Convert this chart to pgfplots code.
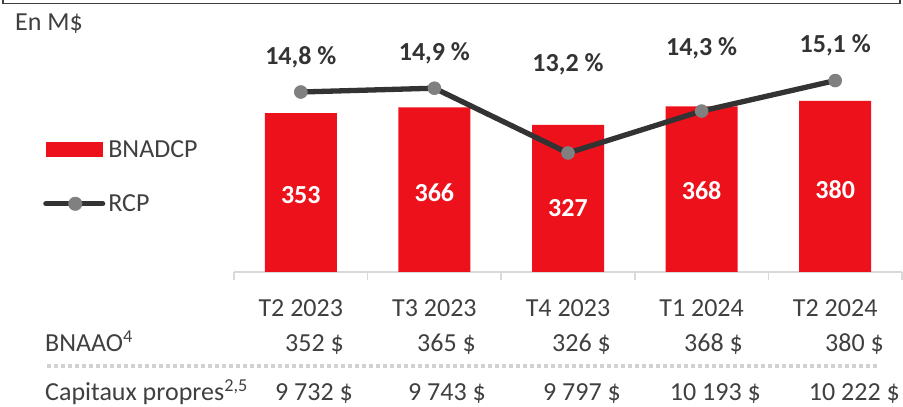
\documentclass[border=0pt]{standalone}
\usepackage{pgfplots}
\pgfplotsset{compat=1.18}
\usepackage{fontspec}
\setmainfont{Carlito}
\definecolor{barred}{RGB}{237,17,27}
\definecolor{linegray}{RGB}{51,51,51}
\definecolor{markgray}{RGB}{128,128,128}
\definecolor{textgray}{RGB}{64,64,64}
\definecolor{axisgray}{RGB}{217,217,217}
\definecolor{dashgray}{RGB}{210,210,210}
\newcommand{\bigfont}{\fontsize{26}{30}\selectfont}
\begin{document}
\begin{tikzpicture}[x=1pt,y=1pt]
\useasboundingbox (0,0) rectangle (903,407);
% top frame edge
\draw[textgray, line width=1.6pt] (3,407) -- (3,403.5) -- (900,403.5) -- (900,407);
\node[anchor=base west, inner sep=0pt, text=textgray, font=\bigfont] at (15,376.2) {En M\$};

\begin{axis}[
  at={(234pt,135pt)}, anchor=south west,
  scale only axis, width=668pt, height=252pt,
  xmin=-0.5, xmax=4.5, ymin=0, ymax=560,
  axis y line=none, axis x line*=bottom,
  x axis line style={-, draw=axisgray, line width=1.5pt},
  xtick={0,1,2,3,4},
  xticklabels={T2 2023,T3 2023,T4 2023,T1 2024,T2 2024},
  major tick length=0pt, tick align=outside,
  xticklabel style={anchor=base, yshift=-44.3pt, font=\bigfont, text=textgray, inner sep=0pt},
  extra x ticks={-0.5,0.5,1.5,2.5,3.5,4.5},
  extra x tick labels={},
  extra x tick style={major tick length=8pt, tick style={axisgray, line width=1.5pt}},
  clip=false,
  legend style={at={(-0.2859,0.5238)}, anchor=north west, draw=none, fill=none,
    inner sep=0pt, font=\bigfont, text=textgray, row sep=36pt, column sep=3pt,
    nodes={inner sep=0pt}},
  legend cell align=left,
]
\addplot[ybar, bar width=72pt, fill=barred, draw=none,
  legend image code/.code={\fill[barred] (3pt,-7.5pt) rectangle (60pt,7.5pt);}]
  coordinates {(0,353) (1,366) (2,327) (3,368) (4,380)};
\addlegendentry{BNADCP}
\addlegendimage{legend image code/.code={\draw[linegray, line width=5.3pt, line cap=round] (2.6pt,0pt) -- (59.4pt,0pt); \fill[markgray] (32pt,0pt) circle (6.8pt);}}
\addlegendentry{RCP}
\node[white, font=\bigfont\bfseries, inner sep=0pt] at (axis cs:0,171) {353};
\node[white, font=\bigfont\bfseries, inner sep=0pt] at (axis cs:1,176) {366};
\node[white, font=\bigfont\bfseries, inner sep=0pt] at (axis cs:2,142) {327};
\node[white, font=\bigfont\bfseries, inner sep=0pt] at (axis cs:3,180) {368};
\node[white, font=\bigfont\bfseries, inner sep=0pt] at (axis cs:4,184) {380};
\end{axis}

\begin{axis}[
  at={(234pt,135pt)}, anchor=south west,
  scale only axis, width=668pt, height=252pt,
  xmin=-0.5, xmax=4.5, ymin=10.076, ymax=16.69,
  hide axis, clip=false,
]
\addplot[linegray, line width=5.3pt, line join=round, mark=*, mark size=6.3pt,
  mark options={fill=markgray, draw=markgray, line width=1pt, solid}]
  coordinates {(0,14.8) (1,14.9) (2,13.2) (3,14.3) (4,15.1)};
\node[text=linegray, font=\bigfont\bfseries, inner sep=0pt] at (axis cs:0,15.706) {14,8 \%};
\node[text=linegray, font=\bigfont\bfseries, inner sep=0pt] at (axis cs:1,15.81) {14,9 \%};
\node[text=linegray, font=\bigfont\bfseries, inner sep=0pt] at (axis cs:2,15.522) {13,2 \%};
\node[text=linegray, font=\bigfont\bfseries, inner sep=0pt] at (axis cs:3,15.955) {14,3 \%};
\node[text=linegray, font=\bigfont\bfseries, inner sep=0pt] at (axis cs:4,16.034) {15,1 \%};
\end{axis}

% table rows
\begin{scope}[every node/.style={inner sep=0pt, text=textgray, font=\bigfont}]
\node[anchor=base west] at (45,55.7) {BNAAO\textsuperscript{4}};
\node[anchor=base east] at (344,55.7) {352 \$};
\node[anchor=base east] at (476,55.7) {365 \$};
\node[anchor=base east] at (611,55.7) {326 \$};
\node[anchor=base east] at (743,55.7) {368 \$};
\node[anchor=base east] at (884,55.7) {380 \$};
\draw[dashgray, line width=4pt, dash pattern=on 4pt off 3pt] (47,41) -- (878,41);
\node[anchor=base west] at (45,6) {Capitaux propres\textsuperscript{2,5}};
\node[anchor=base east] at (353,6) {9 732 \$};
\node[anchor=base east] at (486,6) {9 743 \$};
\node[anchor=base east] at (621,6) {9 797 \$};
\node[anchor=base east] at (761,6) {10 193 \$};
\node[anchor=base east] at (900,6) {10 222 \$};
\end{scope}
\end{tikzpicture}
\end{document}
